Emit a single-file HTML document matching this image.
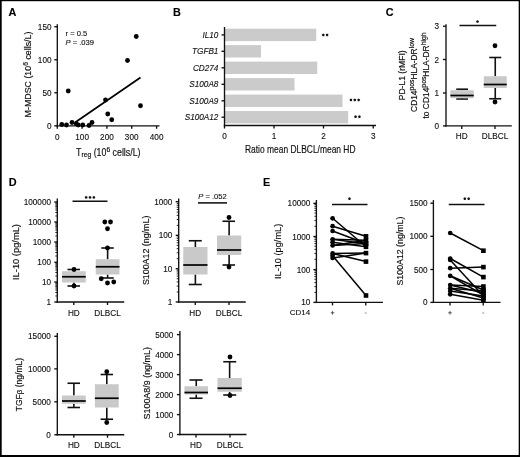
<!DOCTYPE html><html><head><meta charset="utf-8"><style>html,body{margin:0;padding:0;background:#fff}svg{display:block;will-change:transform;opacity:0.999}text{font-family:"Liberation Sans", sans-serif}</style></head><body>
<svg width="520" height="457" viewBox="0 0 520 457">
<rect x="0" y="0" width="520" height="457" fill="#fff"/>
<text transform="translate(8.60,16.30) scale(0.97,1)" font-size="11.2" text-anchor="start" font-weight="bold" font-style="normal" fill="#000" stroke="#000" stroke-width="0.12" >A</text>
<text transform="translate(173.00,16.40) scale(0.97,1)" font-size="11.2" text-anchor="start" font-weight="bold" font-style="normal" fill="#000" stroke="#000" stroke-width="0.12" >B</text>
<text transform="translate(385.80,16.20) scale(0.97,1)" font-size="11.2" text-anchor="start" font-weight="bold" font-style="normal" fill="#000" stroke="#000" stroke-width="0.12" >C</text>
<text transform="translate(8.80,185.70) scale(0.97,1)" font-size="11.2" text-anchor="start" font-weight="bold" font-style="normal" fill="#000" stroke="#000" stroke-width="0.12" >D</text>
<text transform="translate(263.00,185.50) scale(0.97,1)" font-size="11.2" text-anchor="start" font-weight="bold" font-style="normal" fill="#000" stroke="#000" stroke-width="0.12" >E</text>
<line x1="57.30" y1="24.20" x2="57.30" y2="126.47" stroke="#111" stroke-width="1.35" stroke-linecap="butt"/>
<line x1="54.30" y1="26.75" x2="57.30" y2="26.75" stroke="#111" stroke-width="1.35" stroke-linecap="butt"/>
<text transform="translate(51.50,29.75) scale(1.0,1)" font-size="8.2" text-anchor="end" font-weight="normal" font-style="normal" fill="#111" stroke="#111" stroke-width="0.12" >150</text>
<line x1="54.30" y1="59.75" x2="57.30" y2="59.75" stroke="#111" stroke-width="1.35" stroke-linecap="butt"/>
<text transform="translate(51.50,62.75) scale(1.0,1)" font-size="8.2" text-anchor="end" font-weight="normal" font-style="normal" fill="#111" stroke="#111" stroke-width="0.12" >100</text>
<line x1="54.30" y1="92.75" x2="57.30" y2="92.75" stroke="#111" stroke-width="1.35" stroke-linecap="butt"/>
<text transform="translate(51.50,95.75) scale(1.0,1)" font-size="8.2" text-anchor="end" font-weight="normal" font-style="normal" fill="#111" stroke="#111" stroke-width="0.12" >50</text>
<line x1="54.30" y1="125.80" x2="57.30" y2="125.80" stroke="#111" stroke-width="1.35" stroke-linecap="butt"/>
<text transform="translate(51.50,128.80) scale(1.0,1)" font-size="8.2" text-anchor="end" font-weight="normal" font-style="normal" fill="#111" stroke="#111" stroke-width="0.12" >0</text>
<line x1="56.62" y1="125.80" x2="159.50" y2="125.80" stroke="#111" stroke-width="1.35" stroke-linecap="butt"/>
<line x1="57.30" y1="125.80" x2="57.30" y2="128.80" stroke="#111" stroke-width="1.35" stroke-linecap="butt"/>
<text transform="translate(57.30,139.60) scale(1.0,1)" font-size="8.2" text-anchor="middle" font-weight="normal" font-style="normal" fill="#111" stroke="#111" stroke-width="0.12" >0</text>
<line x1="82.10" y1="125.80" x2="82.10" y2="128.80" stroke="#111" stroke-width="1.35" stroke-linecap="butt"/>
<text transform="translate(82.10,139.60) scale(1.0,1)" font-size="8.2" text-anchor="middle" font-weight="normal" font-style="normal" fill="#111" stroke="#111" stroke-width="0.12" >100</text>
<line x1="106.90" y1="125.80" x2="106.90" y2="128.80" stroke="#111" stroke-width="1.35" stroke-linecap="butt"/>
<text transform="translate(106.90,139.60) scale(1.0,1)" font-size="8.2" text-anchor="middle" font-weight="normal" font-style="normal" fill="#111" stroke="#111" stroke-width="0.12" >200</text>
<line x1="131.70" y1="125.80" x2="131.70" y2="128.80" stroke="#111" stroke-width="1.35" stroke-linecap="butt"/>
<text transform="translate(131.70,139.60) scale(1.0,1)" font-size="8.2" text-anchor="middle" font-weight="normal" font-style="normal" fill="#111" stroke="#111" stroke-width="0.12" >300</text>
<line x1="156.60" y1="125.80" x2="156.60" y2="128.80" stroke="#111" stroke-width="1.35" stroke-linecap="butt"/>
<text transform="translate(156.60,139.60) scale(1.0,1)" font-size="8.2" text-anchor="middle" font-weight="normal" font-style="normal" fill="#111" stroke="#111" stroke-width="0.12" >400</text>
<g transform="translate(31.00,74.50) rotate(-90)" fill="#111" stroke="#111" stroke-width="0.18">
<text transform="translate(-42.90,0) scale(1.0279,1)" font-size="8.6">M-MDSC&#160;(10</text>
<text transform="translate(8.66,-3.3)" font-size="6.8">6</text>
<text transform="translate(12.45,0) scale(1.0279,1)" font-size="8.6">&#160;cells/L)</text>
</g>
<g transform="translate(76.00,155.70)" fill="#111" stroke="#111" stroke-width="0.18">
<text transform="translate(0.00,0) scale(0.7592,1)" font-size="11.6">T</text>
<text transform="translate(5.38,1.6)" font-size="6.8">reg</text>
<text transform="translate(15.21,0) scale(0.7592,1)" font-size="11.6">&#160;(10</text>
<text transform="translate(30.38,-3.3)" font-size="6.8">6</text>
<text transform="translate(34.16,0) scale(0.7592,1)" font-size="11.6">&#160;cells/L)</text>
</g>
<text transform="translate(65.50,36.20) scale(1.0,1)" font-size="7.6" text-anchor="start" font-weight="normal" font-style="normal" fill="#111" stroke="#111" stroke-width="0.12" >r = 0.5</text>
<text transform="translate(65.50,45.30) scale(1.0,1)" font-size="7.6" text-anchor="start" font-weight="normal" font-style="normal" fill="#111" stroke="#111" stroke-width="0.12" ><tspan font-style="italic">P</tspan> = .039</text>
<circle cx="61.75" cy="124.50" r="2.4" fill="#000"/>
<circle cx="66.50" cy="125.00" r="2.4" fill="#000"/>
<circle cx="72.00" cy="122.50" r="2.4" fill="#000"/>
<circle cx="76.25" cy="123.75" r="2.4" fill="#000"/>
<circle cx="78.25" cy="125.00" r="2.4" fill="#000"/>
<circle cx="82.75" cy="125.00" r="2.4" fill="#000"/>
<circle cx="89.00" cy="125.50" r="2.4" fill="#000"/>
<circle cx="92.00" cy="122.50" r="2.4" fill="#000"/>
<circle cx="68.25" cy="91.00" r="2.4" fill="#000"/>
<circle cx="105.50" cy="100.00" r="2.4" fill="#000"/>
<circle cx="107.75" cy="114.00" r="2.4" fill="#000"/>
<circle cx="111.75" cy="119.75" r="2.4" fill="#000"/>
<circle cx="127.50" cy="60.50" r="2.4" fill="#000"/>
<circle cx="136.25" cy="36.50" r="2.4" fill="#000"/>
<circle cx="140.50" cy="105.75" r="2.4" fill="#000"/>
<line x1="75.00" y1="122.50" x2="140.50" y2="77.50" stroke="#000" stroke-width="1.7" stroke-linecap="butt"/>
<rect x="224.5" y="28.7" width="91.75" height="12.4" fill="#cbcbcb"/>
<line x1="221.50" y1="34.90" x2="224.50" y2="34.90" stroke="#111" stroke-width="1.35" stroke-linecap="butt"/>
<text transform="translate(218.40,37.80) scale(1.0,1)" font-size="8.2" text-anchor="end" font-weight="normal" font-style="italic" fill="#111" stroke="#111" stroke-width="0.12" >IL10</text>
<rect x="224.5" y="45.1" width="36.50" height="12.4" fill="#cbcbcb"/>
<line x1="221.50" y1="51.30" x2="224.50" y2="51.30" stroke="#111" stroke-width="1.35" stroke-linecap="butt"/>
<text transform="translate(218.40,54.20) scale(1.0,1)" font-size="8.2" text-anchor="end" font-weight="normal" font-style="italic" fill="#111" stroke="#111" stroke-width="0.12" >TGFB1</text>
<rect x="224.5" y="61.6" width="92.75" height="12.4" fill="#cbcbcb"/>
<line x1="221.50" y1="67.80" x2="224.50" y2="67.80" stroke="#111" stroke-width="1.35" stroke-linecap="butt"/>
<text transform="translate(218.40,70.70) scale(1.0,1)" font-size="8.2" text-anchor="end" font-weight="normal" font-style="italic" fill="#111" stroke="#111" stroke-width="0.12" >CD274</text>
<rect x="224.5" y="78.1" width="70.00" height="12.4" fill="#cbcbcb"/>
<line x1="221.50" y1="84.30" x2="224.50" y2="84.30" stroke="#111" stroke-width="1.35" stroke-linecap="butt"/>
<text transform="translate(218.40,87.20) scale(1.0,1)" font-size="8.2" text-anchor="end" font-weight="normal" font-style="italic" fill="#111" stroke="#111" stroke-width="0.12" >S100A8</text>
<rect x="224.5" y="94.6" width="118.00" height="12.4" fill="#cbcbcb"/>
<line x1="221.50" y1="100.80" x2="224.50" y2="100.80" stroke="#111" stroke-width="1.35" stroke-linecap="butt"/>
<text transform="translate(218.40,103.70) scale(1.0,1)" font-size="8.2" text-anchor="end" font-weight="normal" font-style="italic" fill="#111" stroke="#111" stroke-width="0.12" >S100A9</text>
<rect x="224.5" y="111.0" width="123.70" height="12.4" fill="#cbcbcb"/>
<line x1="221.50" y1="117.20" x2="224.50" y2="117.20" stroke="#111" stroke-width="1.35" stroke-linecap="butt"/>
<text transform="translate(218.40,120.10) scale(1.0,1)" font-size="8.2" text-anchor="end" font-weight="normal" font-style="italic" fill="#111" stroke="#111" stroke-width="0.12" >S100A12</text>
<line x1="224.50" y1="27.00" x2="224.50" y2="126.17" stroke="#111" stroke-width="1.35" stroke-linecap="butt"/>
<line x1="223.82" y1="125.50" x2="376.00" y2="125.50" stroke="#111" stroke-width="1.35" stroke-linecap="butt"/>
<line x1="224.50" y1="125.50" x2="224.50" y2="128.50" stroke="#111" stroke-width="1.35" stroke-linecap="butt"/>
<text transform="translate(224.50,139.30) scale(1.0,1)" font-size="8.2" text-anchor="middle" font-weight="normal" font-style="normal" fill="#111" stroke="#111" stroke-width="0.12" >0</text>
<line x1="274.00" y1="125.50" x2="274.00" y2="128.50" stroke="#111" stroke-width="1.35" stroke-linecap="butt"/>
<text transform="translate(274.00,139.30) scale(1.0,1)" font-size="8.2" text-anchor="middle" font-weight="normal" font-style="normal" fill="#111" stroke="#111" stroke-width="0.12" >1</text>
<line x1="323.50" y1="125.50" x2="323.50" y2="128.50" stroke="#111" stroke-width="1.35" stroke-linecap="butt"/>
<text transform="translate(323.50,139.30) scale(1.0,1)" font-size="8.2" text-anchor="middle" font-weight="normal" font-style="normal" fill="#111" stroke="#111" stroke-width="0.12" >2</text>
<line x1="373.25" y1="125.50" x2="373.25" y2="128.50" stroke="#111" stroke-width="1.35" stroke-linecap="butt"/>
<text transform="translate(373.25,139.30) scale(1.0,1)" font-size="8.2" text-anchor="middle" font-weight="normal" font-style="normal" fill="#111" stroke="#111" stroke-width="0.12" >3</text>
<g transform="translate(245.00,152.90)" fill="#111" stroke="#111" stroke-width="0.18">
<text transform="translate(0.00,0) scale(0.7279,1)" font-size="11.6">Ratio&#160;mean&#160;DLBCL/mean&#160;HD</text>
</g>
<circle cx="323.27" cy="35.00" r="1.2" fill="#111"/>
<path d="M321.77 34.50L324.77 34.50M323.27 33.40L323.27 35.00M322.27 36.40L323.27 35.00L324.27 36.40" stroke="#111" stroke-width="0.5" fill="none" opacity="0.6"/>
<circle cx="327.12" cy="35.00" r="1.2" fill="#111"/>
<path d="M325.62 34.50L328.62 34.50M327.12 33.40L327.12 35.00M326.12 36.40L327.12 35.00L328.12 36.40" stroke="#111" stroke-width="0.5" fill="none" opacity="0.6"/>
<circle cx="350.95" cy="100.00" r="1.2" fill="#111"/>
<path d="M349.45 99.50L352.45 99.50M350.95 98.40L350.95 100.00M349.95 101.40L350.95 100.00L351.95 101.40" stroke="#111" stroke-width="0.5" fill="none" opacity="0.6"/>
<circle cx="354.80" cy="100.00" r="1.2" fill="#111"/>
<path d="M353.30 99.50L356.30 99.50M354.80 98.40L354.80 100.00M353.80 101.40L354.80 100.00L355.80 101.40" stroke="#111" stroke-width="0.5" fill="none" opacity="0.6"/>
<circle cx="358.65" cy="100.00" r="1.2" fill="#111"/>
<path d="M357.15 99.50L360.15 99.50M358.65 98.40L358.65 100.00M357.65 101.40L358.65 100.00L359.65 101.40" stroke="#111" stroke-width="0.5" fill="none" opacity="0.6"/>
<circle cx="355.57" cy="116.80" r="1.2" fill="#111"/>
<path d="M354.07 116.30L357.07 116.30M355.57 115.20L355.57 116.80M354.57 118.20L355.57 116.80L356.57 118.20" stroke="#111" stroke-width="0.5" fill="none" opacity="0.6"/>
<circle cx="359.43" cy="116.80" r="1.2" fill="#111"/>
<path d="M357.93 116.30L360.93 116.30M359.43 115.20L359.43 116.80M358.43 118.20L359.43 116.80L360.43 118.20" stroke="#111" stroke-width="0.5" fill="none" opacity="0.6"/>
<line x1="446.00" y1="24.20" x2="446.00" y2="126.58" stroke="#111" stroke-width="1.35" stroke-linecap="butt"/>
<line x1="443.00" y1="26.25" x2="446.00" y2="26.25" stroke="#111" stroke-width="1.35" stroke-linecap="butt"/>
<text transform="translate(439.00,29.25) scale(1.0,1)" font-size="8.2" text-anchor="end" font-weight="normal" font-style="normal" fill="#111" stroke="#111" stroke-width="0.12" >3</text>
<line x1="443.00" y1="59.50" x2="446.00" y2="59.50" stroke="#111" stroke-width="1.35" stroke-linecap="butt"/>
<text transform="translate(439.00,62.50) scale(1.0,1)" font-size="8.2" text-anchor="end" font-weight="normal" font-style="normal" fill="#111" stroke="#111" stroke-width="0.12" >2</text>
<line x1="443.00" y1="93.00" x2="446.00" y2="93.00" stroke="#111" stroke-width="1.35" stroke-linecap="butt"/>
<text transform="translate(439.00,96.00) scale(1.0,1)" font-size="8.2" text-anchor="end" font-weight="normal" font-style="normal" fill="#111" stroke="#111" stroke-width="0.12" >1</text>
<line x1="443.00" y1="125.90" x2="446.00" y2="125.90" stroke="#111" stroke-width="1.35" stroke-linecap="butt"/>
<text transform="translate(439.00,128.90) scale(1.0,1)" font-size="8.2" text-anchor="end" font-weight="normal" font-style="normal" fill="#111" stroke="#111" stroke-width="0.12" >0</text>
<line x1="445.32" y1="125.90" x2="511.75" y2="125.90" stroke="#111" stroke-width="1.35" stroke-linecap="butt"/>
<line x1="461.75" y1="125.90" x2="461.75" y2="128.90" stroke="#111" stroke-width="1.35" stroke-linecap="butt"/>
<text transform="translate(461.75,139.30) scale(1.0,1)" font-size="8.2" text-anchor="middle" font-weight="normal" font-style="normal" fill="#111" stroke="#111" stroke-width="0.12" >HD</text>
<line x1="495.00" y1="125.90" x2="495.00" y2="128.90" stroke="#111" stroke-width="1.35" stroke-linecap="butt"/>
<text transform="translate(495.00,139.30) scale(1.0,1)" font-size="8.2" text-anchor="middle" font-weight="normal" font-style="normal" fill="#111" stroke="#111" stroke-width="0.12" >DLBCL</text>
<line x1="459.50" y1="25.50" x2="496.25" y2="25.50" stroke="#111" stroke-width="1.55" stroke-linecap="butt"/>
<circle cx="477.50" cy="21.60" r="1.2" fill="#111"/>
<path d="M476.00 21.10L479.00 21.10M477.50 20.00L477.50 21.60M476.50 23.00L477.50 21.60L478.50 23.00" stroke="#111" stroke-width="0.5" fill="none" opacity="0.6"/>
<line x1="462.07" y1="89.20" x2="462.07" y2="90.20" stroke="#111" stroke-width="1.6" stroke-linecap="butt"/>
<line x1="462.07" y1="98.20" x2="462.07" y2="99.00" stroke="#111" stroke-width="1.6" stroke-linecap="butt"/>
<line x1="456.25" y1="89.20" x2="468.00" y2="89.20" stroke="#111" stroke-width="1.6" stroke-linecap="butt"/>
<line x1="456.25" y1="99.00" x2="468.00" y2="99.00" stroke="#111" stroke-width="1.6" stroke-linecap="butt"/>
<rect x="450.40" y="90.20" width="23.35" height="8.00" fill="#c9c9c9"/>
<line x1="450.40" y1="95.50" x2="473.75" y2="95.50" stroke="#000" stroke-width="1.7" stroke-linecap="butt"/>
<line x1="495.25" y1="57.50" x2="495.25" y2="76.25" stroke="#111" stroke-width="1.6" stroke-linecap="butt"/>
<line x1="495.25" y1="88.00" x2="495.25" y2="98.75" stroke="#111" stroke-width="1.6" stroke-linecap="butt"/>
<line x1="489.25" y1="57.50" x2="501.25" y2="57.50" stroke="#111" stroke-width="1.6" stroke-linecap="butt"/>
<line x1="489.25" y1="98.75" x2="501.25" y2="98.75" stroke="#111" stroke-width="1.6" stroke-linecap="butt"/>
<rect x="483.75" y="76.25" width="23.00" height="11.75" fill="#c9c9c9"/>
<line x1="483.75" y1="84.50" x2="506.75" y2="84.50" stroke="#000" stroke-width="1.7" stroke-linecap="butt"/>
<circle cx="495.00" cy="45.75" r="2.4" fill="#000"/>
<circle cx="495.00" cy="102.00" r="2.4" fill="#000"/>
<g transform="translate(405.40,75.30) rotate(-90)" fill="#111" stroke="#111" stroke-width="0.18">
<text transform="translate(-25.00,0) scale(0.9968,1)" font-size="8.6">PD-L1&#160;(rMFI)</text>
</g>
<g transform="translate(416.80,75.00) rotate(-90)" fill="#111" stroke="#111" stroke-width="0.18">
<text transform="translate(-36.88,0) scale(0.9738,1)" font-size="8.6">CD14</text>
<text transform="translate(-15.47,-3.3)" font-size="6.8">pos</text>
<text transform="translate(-4.50,0) scale(0.9738,1)" font-size="8.6">HLA-DR</text>
<text transform="translate(26.67,-3.3)" font-size="6.8">low</text>
</g>
<g transform="translate(429.00,75.50) rotate(-90)" fill="#111" stroke="#111" stroke-width="0.18">
<text transform="translate(-43.00,0) scale(0.9783,1)" font-size="8.6">to&#160;CD14</text>
<text transform="translate(-12.14,-3.3)" font-size="6.8">pos</text>
<text transform="translate(-1.17,0) scale(0.9783,1)" font-size="8.6">HLA-DR</text>
<text transform="translate(30.14,-3.3)" font-size="6.8">high</text>
</g>
<line x1="57.30" y1="198.40" x2="57.30" y2="302.68" stroke="#111" stroke-width="1.35" stroke-linecap="butt"/>
<line x1="54.30" y1="202.00" x2="57.30" y2="202.00" stroke="#111" stroke-width="1.35" stroke-linecap="butt"/>
<text transform="translate(51.00,205.00) scale(1.0,1)" font-size="8.2" text-anchor="end" font-weight="normal" font-style="normal" fill="#111" stroke="#111" stroke-width="0.12" >100000</text>
<line x1="54.30" y1="222.00" x2="57.30" y2="222.00" stroke="#111" stroke-width="1.35" stroke-linecap="butt"/>
<text transform="translate(51.00,225.00) scale(1.0,1)" font-size="8.2" text-anchor="end" font-weight="normal" font-style="normal" fill="#111" stroke="#111" stroke-width="0.12" >10000</text>
<line x1="54.30" y1="242.00" x2="57.30" y2="242.00" stroke="#111" stroke-width="1.35" stroke-linecap="butt"/>
<text transform="translate(51.00,245.00) scale(1.0,1)" font-size="8.2" text-anchor="end" font-weight="normal" font-style="normal" fill="#111" stroke="#111" stroke-width="0.12" >1000</text>
<line x1="54.30" y1="262.25" x2="57.30" y2="262.25" stroke="#111" stroke-width="1.35" stroke-linecap="butt"/>
<text transform="translate(51.00,265.25) scale(1.0,1)" font-size="8.2" text-anchor="end" font-weight="normal" font-style="normal" fill="#111" stroke="#111" stroke-width="0.12" >100</text>
<line x1="54.30" y1="282.00" x2="57.30" y2="282.00" stroke="#111" stroke-width="1.35" stroke-linecap="butt"/>
<text transform="translate(51.00,285.00) scale(1.0,1)" font-size="8.2" text-anchor="end" font-weight="normal" font-style="normal" fill="#111" stroke="#111" stroke-width="0.12" >10</text>
<line x1="54.30" y1="302.00" x2="57.30" y2="302.00" stroke="#111" stroke-width="1.35" stroke-linecap="butt"/>
<text transform="translate(51.00,305.00) scale(1.0,1)" font-size="8.2" text-anchor="end" font-weight="normal" font-style="normal" fill="#111" stroke="#111" stroke-width="0.12" >1</text>
<line x1="55.30" y1="295.98" x2="57.30" y2="295.98" stroke="#111" stroke-width="0.9" stroke-linecap="butt"/>
<line x1="55.30" y1="292.46" x2="57.30" y2="292.46" stroke="#111" stroke-width="0.9" stroke-linecap="butt"/>
<line x1="55.30" y1="289.96" x2="57.30" y2="289.96" stroke="#111" stroke-width="0.9" stroke-linecap="butt"/>
<line x1="55.30" y1="288.02" x2="57.30" y2="288.02" stroke="#111" stroke-width="0.9" stroke-linecap="butt"/>
<line x1="55.30" y1="286.44" x2="57.30" y2="286.44" stroke="#111" stroke-width="0.9" stroke-linecap="butt"/>
<line x1="55.30" y1="285.10" x2="57.30" y2="285.10" stroke="#111" stroke-width="0.9" stroke-linecap="butt"/>
<line x1="55.30" y1="283.94" x2="57.30" y2="283.94" stroke="#111" stroke-width="0.9" stroke-linecap="butt"/>
<line x1="55.30" y1="282.92" x2="57.30" y2="282.92" stroke="#111" stroke-width="0.9" stroke-linecap="butt"/>
<line x1="55.30" y1="275.98" x2="57.30" y2="275.98" stroke="#111" stroke-width="0.9" stroke-linecap="butt"/>
<line x1="55.30" y1="272.46" x2="57.30" y2="272.46" stroke="#111" stroke-width="0.9" stroke-linecap="butt"/>
<line x1="55.30" y1="269.96" x2="57.30" y2="269.96" stroke="#111" stroke-width="0.9" stroke-linecap="butt"/>
<line x1="55.30" y1="268.02" x2="57.30" y2="268.02" stroke="#111" stroke-width="0.9" stroke-linecap="butt"/>
<line x1="55.30" y1="266.44" x2="57.30" y2="266.44" stroke="#111" stroke-width="0.9" stroke-linecap="butt"/>
<line x1="55.30" y1="265.10" x2="57.30" y2="265.10" stroke="#111" stroke-width="0.9" stroke-linecap="butt"/>
<line x1="55.30" y1="263.94" x2="57.30" y2="263.94" stroke="#111" stroke-width="0.9" stroke-linecap="butt"/>
<line x1="55.30" y1="262.92" x2="57.30" y2="262.92" stroke="#111" stroke-width="0.9" stroke-linecap="butt"/>
<line x1="55.30" y1="255.98" x2="57.30" y2="255.98" stroke="#111" stroke-width="0.9" stroke-linecap="butt"/>
<line x1="55.30" y1="252.46" x2="57.30" y2="252.46" stroke="#111" stroke-width="0.9" stroke-linecap="butt"/>
<line x1="55.30" y1="249.96" x2="57.30" y2="249.96" stroke="#111" stroke-width="0.9" stroke-linecap="butt"/>
<line x1="55.30" y1="248.02" x2="57.30" y2="248.02" stroke="#111" stroke-width="0.9" stroke-linecap="butt"/>
<line x1="55.30" y1="246.44" x2="57.30" y2="246.44" stroke="#111" stroke-width="0.9" stroke-linecap="butt"/>
<line x1="55.30" y1="245.10" x2="57.30" y2="245.10" stroke="#111" stroke-width="0.9" stroke-linecap="butt"/>
<line x1="55.30" y1="243.94" x2="57.30" y2="243.94" stroke="#111" stroke-width="0.9" stroke-linecap="butt"/>
<line x1="55.30" y1="242.92" x2="57.30" y2="242.92" stroke="#111" stroke-width="0.9" stroke-linecap="butt"/>
<line x1="55.30" y1="235.98" x2="57.30" y2="235.98" stroke="#111" stroke-width="0.9" stroke-linecap="butt"/>
<line x1="55.30" y1="232.46" x2="57.30" y2="232.46" stroke="#111" stroke-width="0.9" stroke-linecap="butt"/>
<line x1="55.30" y1="229.96" x2="57.30" y2="229.96" stroke="#111" stroke-width="0.9" stroke-linecap="butt"/>
<line x1="55.30" y1="228.02" x2="57.30" y2="228.02" stroke="#111" stroke-width="0.9" stroke-linecap="butt"/>
<line x1="55.30" y1="226.44" x2="57.30" y2="226.44" stroke="#111" stroke-width="0.9" stroke-linecap="butt"/>
<line x1="55.30" y1="225.10" x2="57.30" y2="225.10" stroke="#111" stroke-width="0.9" stroke-linecap="butt"/>
<line x1="55.30" y1="223.94" x2="57.30" y2="223.94" stroke="#111" stroke-width="0.9" stroke-linecap="butt"/>
<line x1="55.30" y1="222.92" x2="57.30" y2="222.92" stroke="#111" stroke-width="0.9" stroke-linecap="butt"/>
<line x1="55.30" y1="215.98" x2="57.30" y2="215.98" stroke="#111" stroke-width="0.9" stroke-linecap="butt"/>
<line x1="55.30" y1="212.46" x2="57.30" y2="212.46" stroke="#111" stroke-width="0.9" stroke-linecap="butt"/>
<line x1="55.30" y1="209.96" x2="57.30" y2="209.96" stroke="#111" stroke-width="0.9" stroke-linecap="butt"/>
<line x1="55.30" y1="208.02" x2="57.30" y2="208.02" stroke="#111" stroke-width="0.9" stroke-linecap="butt"/>
<line x1="55.30" y1="206.44" x2="57.30" y2="206.44" stroke="#111" stroke-width="0.9" stroke-linecap="butt"/>
<line x1="55.30" y1="205.10" x2="57.30" y2="205.10" stroke="#111" stroke-width="0.9" stroke-linecap="butt"/>
<line x1="55.30" y1="203.94" x2="57.30" y2="203.94" stroke="#111" stroke-width="0.9" stroke-linecap="butt"/>
<line x1="55.30" y1="202.92" x2="57.30" y2="202.92" stroke="#111" stroke-width="0.9" stroke-linecap="butt"/>
<line x1="56.62" y1="302.00" x2="124.25" y2="302.00" stroke="#111" stroke-width="1.35" stroke-linecap="butt"/>
<line x1="73.80" y1="302.00" x2="73.80" y2="305.00" stroke="#111" stroke-width="1.35" stroke-linecap="butt"/>
<text transform="translate(73.80,315.60) scale(1.0,1)" font-size="8.2" text-anchor="middle" font-weight="normal" font-style="normal" fill="#111" stroke="#111" stroke-width="0.12" >HD</text>
<line x1="107.50" y1="302.00" x2="107.50" y2="305.00" stroke="#111" stroke-width="1.35" stroke-linecap="butt"/>
<text transform="translate(107.50,315.60) scale(1.0,1)" font-size="8.2" text-anchor="middle" font-weight="normal" font-style="normal" fill="#111" stroke="#111" stroke-width="0.12" >DLBCL</text>
<line x1="72.50" y1="201.25" x2="107.50" y2="201.25" stroke="#111" stroke-width="1.55" stroke-linecap="butt"/>
<circle cx="86.15" cy="197.40" r="1.2" fill="#111"/>
<path d="M84.65 196.90L87.65 196.90M86.15 195.80L86.15 197.40M85.15 198.80L86.15 197.40L87.15 198.80" stroke="#111" stroke-width="0.5" fill="none" opacity="0.6"/>
<circle cx="90.00" cy="197.40" r="1.2" fill="#111"/>
<path d="M88.50 196.90L91.50 196.90M90.00 195.80L90.00 197.40M89.00 198.80L90.00 197.40L91.00 198.80" stroke="#111" stroke-width="0.5" fill="none" opacity="0.6"/>
<circle cx="93.85" cy="197.40" r="1.2" fill="#111"/>
<path d="M92.35 196.90L95.35 196.90M93.85 195.80L93.85 197.40M92.85 198.80L93.85 197.40L94.85 198.80" stroke="#111" stroke-width="0.5" fill="none" opacity="0.6"/>
<g transform="translate(18.60,252.00) rotate(-90)" fill="#111" stroke="#111" stroke-width="0.18">
<text transform="translate(-28.00,0) scale(1.0849,1)" font-size="8.6">IL-10&#160;(pg/mL)</text>
</g>
<line x1="73.88" y1="269.50" x2="73.88" y2="271.25" stroke="#111" stroke-width="1.6" stroke-linecap="butt"/>
<line x1="73.88" y1="282.50" x2="73.88" y2="286.00" stroke="#111" stroke-width="1.6" stroke-linecap="butt"/>
<line x1="67.50" y1="269.50" x2="80.00" y2="269.50" stroke="#111" stroke-width="1.6" stroke-linecap="butt"/>
<line x1="67.50" y1="286.00" x2="80.00" y2="286.00" stroke="#111" stroke-width="1.6" stroke-linecap="butt"/>
<rect x="62.00" y="271.25" width="23.75" height="11.25" fill="#c9c9c9"/>
<line x1="62.00" y1="276.75" x2="85.75" y2="276.75" stroke="#000" stroke-width="1.7" stroke-linecap="butt"/>
<circle cx="74.00" cy="269.50" r="2.4" fill="#000"/>
<circle cx="74.00" cy="286.00" r="2.4" fill="#000"/>
<line x1="107.62" y1="248.00" x2="107.62" y2="259.25" stroke="#111" stroke-width="1.6" stroke-linecap="butt"/>
<line x1="107.62" y1="274.50" x2="107.62" y2="278.00" stroke="#111" stroke-width="1.6" stroke-linecap="butt"/>
<line x1="101.25" y1="248.00" x2="113.75" y2="248.00" stroke="#111" stroke-width="1.6" stroke-linecap="butt"/>
<line x1="101.25" y1="278.00" x2="113.75" y2="278.00" stroke="#111" stroke-width="1.6" stroke-linecap="butt"/>
<rect x="95.75" y="259.25" width="23.75" height="15.25" fill="#c9c9c9"/>
<line x1="95.75" y1="266.75" x2="119.50" y2="266.75" stroke="#000" stroke-width="1.7" stroke-linecap="butt"/>
<circle cx="107.50" cy="248.00" r="2.4" fill="#000"/>
<circle cx="104.80" cy="222.00" r="2.4" fill="#000"/>
<circle cx="110.50" cy="222.00" r="2.4" fill="#000"/>
<circle cx="107.50" cy="228.75" r="2.4" fill="#000"/>
<circle cx="101.25" cy="278.75" r="2.4" fill="#000"/>
<circle cx="107.50" cy="283.00" r="2.4" fill="#000"/>
<circle cx="113.75" cy="282.00" r="2.4" fill="#000"/>
<line x1="178.70" y1="198.40" x2="178.70" y2="302.68" stroke="#111" stroke-width="1.35" stroke-linecap="butt"/>
<line x1="175.70" y1="201.70" x2="178.70" y2="201.70" stroke="#111" stroke-width="1.35" stroke-linecap="butt"/>
<text transform="translate(172.40,204.70) scale(1.0,1)" font-size="8.2" text-anchor="end" font-weight="normal" font-style="normal" fill="#111" stroke="#111" stroke-width="0.12" >1000</text>
<line x1="175.70" y1="235.30" x2="178.70" y2="235.30" stroke="#111" stroke-width="1.35" stroke-linecap="butt"/>
<text transform="translate(172.40,238.30) scale(1.0,1)" font-size="8.2" text-anchor="end" font-weight="normal" font-style="normal" fill="#111" stroke="#111" stroke-width="0.12" >100</text>
<line x1="175.70" y1="268.75" x2="178.70" y2="268.75" stroke="#111" stroke-width="1.35" stroke-linecap="butt"/>
<text transform="translate(172.40,271.75) scale(1.0,1)" font-size="8.2" text-anchor="end" font-weight="normal" font-style="normal" fill="#111" stroke="#111" stroke-width="0.12" >10</text>
<line x1="175.70" y1="302.00" x2="178.70" y2="302.00" stroke="#111" stroke-width="1.35" stroke-linecap="butt"/>
<text transform="translate(172.40,305.00) scale(1.0,1)" font-size="8.2" text-anchor="end" font-weight="normal" font-style="normal" fill="#111" stroke="#111" stroke-width="0.12" >1</text>
<line x1="176.70" y1="291.98" x2="178.70" y2="291.98" stroke="#111" stroke-width="0.9" stroke-linecap="butt"/>
<line x1="176.70" y1="286.11" x2="178.70" y2="286.11" stroke="#111" stroke-width="0.9" stroke-linecap="butt"/>
<line x1="176.70" y1="281.95" x2="178.70" y2="281.95" stroke="#111" stroke-width="0.9" stroke-linecap="butt"/>
<line x1="176.70" y1="278.72" x2="178.70" y2="278.72" stroke="#111" stroke-width="0.9" stroke-linecap="butt"/>
<line x1="176.70" y1="276.09" x2="178.70" y2="276.09" stroke="#111" stroke-width="0.9" stroke-linecap="butt"/>
<line x1="176.70" y1="273.86" x2="178.70" y2="273.86" stroke="#111" stroke-width="0.9" stroke-linecap="butt"/>
<line x1="176.70" y1="271.93" x2="178.70" y2="271.93" stroke="#111" stroke-width="0.9" stroke-linecap="butt"/>
<line x1="176.70" y1="270.22" x2="178.70" y2="270.22" stroke="#111" stroke-width="0.9" stroke-linecap="butt"/>
<line x1="176.70" y1="258.68" x2="178.70" y2="258.68" stroke="#111" stroke-width="0.9" stroke-linecap="butt"/>
<line x1="176.70" y1="252.81" x2="178.70" y2="252.81" stroke="#111" stroke-width="0.9" stroke-linecap="butt"/>
<line x1="176.70" y1="248.65" x2="178.70" y2="248.65" stroke="#111" stroke-width="0.9" stroke-linecap="butt"/>
<line x1="176.70" y1="245.42" x2="178.70" y2="245.42" stroke="#111" stroke-width="0.9" stroke-linecap="butt"/>
<line x1="176.70" y1="242.79" x2="178.70" y2="242.79" stroke="#111" stroke-width="0.9" stroke-linecap="butt"/>
<line x1="176.70" y1="240.56" x2="178.70" y2="240.56" stroke="#111" stroke-width="0.9" stroke-linecap="butt"/>
<line x1="176.70" y1="238.63" x2="178.70" y2="238.63" stroke="#111" stroke-width="0.9" stroke-linecap="butt"/>
<line x1="176.70" y1="236.92" x2="178.70" y2="236.92" stroke="#111" stroke-width="0.9" stroke-linecap="butt"/>
<line x1="176.70" y1="225.38" x2="178.70" y2="225.38" stroke="#111" stroke-width="0.9" stroke-linecap="butt"/>
<line x1="176.70" y1="219.51" x2="178.70" y2="219.51" stroke="#111" stroke-width="0.9" stroke-linecap="butt"/>
<line x1="176.70" y1="215.35" x2="178.70" y2="215.35" stroke="#111" stroke-width="0.9" stroke-linecap="butt"/>
<line x1="176.70" y1="212.12" x2="178.70" y2="212.12" stroke="#111" stroke-width="0.9" stroke-linecap="butt"/>
<line x1="176.70" y1="209.49" x2="178.70" y2="209.49" stroke="#111" stroke-width="0.9" stroke-linecap="butt"/>
<line x1="176.70" y1="207.26" x2="178.70" y2="207.26" stroke="#111" stroke-width="0.9" stroke-linecap="butt"/>
<line x1="176.70" y1="205.33" x2="178.70" y2="205.33" stroke="#111" stroke-width="0.9" stroke-linecap="butt"/>
<line x1="176.70" y1="203.62" x2="178.70" y2="203.62" stroke="#111" stroke-width="0.9" stroke-linecap="butt"/>
<line x1="178.02" y1="302.00" x2="245.75" y2="302.00" stroke="#111" stroke-width="1.35" stroke-linecap="butt"/>
<line x1="195.25" y1="302.00" x2="195.25" y2="305.00" stroke="#111" stroke-width="1.35" stroke-linecap="butt"/>
<text transform="translate(195.25,315.60) scale(1.0,1)" font-size="8.2" text-anchor="middle" font-weight="normal" font-style="normal" fill="#111" stroke="#111" stroke-width="0.12" >HD</text>
<line x1="229.00" y1="302.00" x2="229.00" y2="305.00" stroke="#111" stroke-width="1.35" stroke-linecap="butt"/>
<text transform="translate(229.00,315.60) scale(1.0,1)" font-size="8.2" text-anchor="middle" font-weight="normal" font-style="normal" fill="#111" stroke="#111" stroke-width="0.12" >DLBCL</text>
<line x1="198.00" y1="202.90" x2="227.00" y2="202.90" stroke="#111" stroke-width="1.55" stroke-linecap="butt"/>
<text transform="translate(212.50,198.70) scale(0.95,1)" font-size="8.0" text-anchor="middle" font-weight="normal" font-style="normal" fill="#111" stroke="#111" stroke-width="0.12" ><tspan font-style="italic">P</tspan> = .052</text>
<g transform="translate(148.70,250.30) rotate(-90)" fill="#111" stroke="#111" stroke-width="0.18">
<text transform="translate(-34.75,0) scale(1.0311,1)" font-size="8.6">S100A12&#160;(ng/mL)</text>
</g>
<line x1="195.38" y1="240.75" x2="195.38" y2="247.00" stroke="#111" stroke-width="1.6" stroke-linecap="butt"/>
<line x1="195.38" y1="274.50" x2="195.38" y2="284.50" stroke="#111" stroke-width="1.6" stroke-linecap="butt"/>
<line x1="188.75" y1="240.75" x2="201.75" y2="240.75" stroke="#111" stroke-width="1.6" stroke-linecap="butt"/>
<line x1="188.75" y1="284.50" x2="201.75" y2="284.50" stroke="#111" stroke-width="1.6" stroke-linecap="butt"/>
<rect x="183.25" y="247.00" width="24.25" height="27.50" fill="#c9c9c9"/>
<line x1="183.25" y1="265.00" x2="207.50" y2="265.00" stroke="#000" stroke-width="1.7" stroke-linecap="butt"/>
<line x1="229.12" y1="221.25" x2="229.12" y2="235.50" stroke="#111" stroke-width="1.6" stroke-linecap="butt"/>
<line x1="229.12" y1="255.00" x2="229.12" y2="265.00" stroke="#111" stroke-width="1.6" stroke-linecap="butt"/>
<line x1="222.50" y1="221.25" x2="235.00" y2="221.25" stroke="#111" stroke-width="1.6" stroke-linecap="butt"/>
<line x1="222.50" y1="265.00" x2="235.00" y2="265.00" stroke="#111" stroke-width="1.6" stroke-linecap="butt"/>
<rect x="217.00" y="235.50" width="24.25" height="19.50" fill="#c9c9c9"/>
<line x1="217.00" y1="250.00" x2="241.25" y2="250.00" stroke="#000" stroke-width="1.7" stroke-linecap="butt"/>
<circle cx="229.00" cy="217.50" r="2.4" fill="#000"/>
<circle cx="229.00" cy="267.00" r="2.4" fill="#000"/>
<line x1="57.30" y1="332.90" x2="57.30" y2="435.43" stroke="#111" stroke-width="1.35" stroke-linecap="butt"/>
<line x1="54.30" y1="336.30" x2="57.30" y2="336.30" stroke="#111" stroke-width="1.35" stroke-linecap="butt"/>
<text transform="translate(50.80,339.30) scale(1.0,1)" font-size="8.2" text-anchor="end" font-weight="normal" font-style="normal" fill="#111" stroke="#111" stroke-width="0.12" >15000</text>
<line x1="54.30" y1="368.90" x2="57.30" y2="368.90" stroke="#111" stroke-width="1.35" stroke-linecap="butt"/>
<text transform="translate(50.80,371.90) scale(1.0,1)" font-size="8.2" text-anchor="end" font-weight="normal" font-style="normal" fill="#111" stroke="#111" stroke-width="0.12" >10000</text>
<line x1="54.30" y1="401.80" x2="57.30" y2="401.80" stroke="#111" stroke-width="1.35" stroke-linecap="butt"/>
<text transform="translate(50.80,404.80) scale(1.0,1)" font-size="8.2" text-anchor="end" font-weight="normal" font-style="normal" fill="#111" stroke="#111" stroke-width="0.12" >5000</text>
<line x1="54.30" y1="434.75" x2="57.30" y2="434.75" stroke="#111" stroke-width="1.35" stroke-linecap="butt"/>
<text transform="translate(50.80,437.75) scale(1.0,1)" font-size="8.2" text-anchor="end" font-weight="normal" font-style="normal" fill="#111" stroke="#111" stroke-width="0.12" >0</text>
<line x1="56.62" y1="434.75" x2="124.25" y2="434.75" stroke="#111" stroke-width="1.35" stroke-linecap="butt"/>
<line x1="73.80" y1="434.75" x2="73.80" y2="437.75" stroke="#111" stroke-width="1.35" stroke-linecap="butt"/>
<text transform="translate(73.80,448.10) scale(1.0,1)" font-size="8.2" text-anchor="middle" font-weight="normal" font-style="normal" fill="#111" stroke="#111" stroke-width="0.12" >HD</text>
<line x1="107.50" y1="434.75" x2="107.50" y2="437.75" stroke="#111" stroke-width="1.35" stroke-linecap="butt"/>
<text transform="translate(107.50,448.10) scale(1.0,1)" font-size="8.2" text-anchor="middle" font-weight="normal" font-style="normal" fill="#111" stroke="#111" stroke-width="0.12" >DLBCL</text>
<g transform="translate(21.70,384.60) rotate(-90)" fill="#111" stroke="#111" stroke-width="0.18">
<text transform="translate(-26.75,0) scale(0.9960,1)" font-size="8.6">TGF</text>
<text transform="translate(-9.62,0.3)" font-size="7.8">β</text>
<text transform="translate(-5.14,0) scale(0.9960,1)" font-size="8.6">&#160;(ng/mL)</text>
</g>
<line x1="73.88" y1="383.25" x2="73.88" y2="395.50" stroke="#111" stroke-width="1.6" stroke-linecap="butt"/>
<line x1="73.88" y1="403.75" x2="73.88" y2="407.50" stroke="#111" stroke-width="1.6" stroke-linecap="butt"/>
<line x1="67.50" y1="383.25" x2="80.00" y2="383.25" stroke="#111" stroke-width="1.6" stroke-linecap="butt"/>
<line x1="67.50" y1="407.50" x2="80.00" y2="407.50" stroke="#111" stroke-width="1.6" stroke-linecap="butt"/>
<rect x="62.00" y="395.50" width="23.75" height="8.25" fill="#c9c9c9"/>
<line x1="62.00" y1="401.00" x2="85.75" y2="401.00" stroke="#000" stroke-width="1.7" stroke-linecap="butt"/>
<line x1="106.80" y1="374.50" x2="106.80" y2="384.25" stroke="#111" stroke-width="1.6" stroke-linecap="butt"/>
<line x1="106.80" y1="407.50" x2="106.80" y2="419.25" stroke="#111" stroke-width="1.6" stroke-linecap="butt"/>
<line x1="100.60" y1="374.50" x2="113.00" y2="374.50" stroke="#111" stroke-width="1.6" stroke-linecap="butt"/>
<line x1="100.60" y1="419.25" x2="113.00" y2="419.25" stroke="#111" stroke-width="1.6" stroke-linecap="butt"/>
<rect x="94.90" y="384.25" width="23.80" height="23.25" fill="#c9c9c9"/>
<line x1="94.90" y1="398.25" x2="118.70" y2="398.25" stroke="#000" stroke-width="1.7" stroke-linecap="butt"/>
<circle cx="106.75" cy="371.75" r="2.4" fill="#000"/>
<circle cx="106.75" cy="422.50" r="2.4" fill="#000"/>
<line x1="179.90" y1="331.00" x2="179.90" y2="435.18" stroke="#111" stroke-width="1.35" stroke-linecap="butt"/>
<line x1="176.90" y1="334.60" x2="179.90" y2="334.60" stroke="#111" stroke-width="1.35" stroke-linecap="butt"/>
<text transform="translate(173.40,337.60) scale(1.0,1)" font-size="8.2" text-anchor="end" font-weight="normal" font-style="normal" fill="#111" stroke="#111" stroke-width="0.12" >5000</text>
<line x1="176.90" y1="354.60" x2="179.90" y2="354.60" stroke="#111" stroke-width="1.35" stroke-linecap="butt"/>
<text transform="translate(173.40,357.60) scale(1.0,1)" font-size="8.2" text-anchor="end" font-weight="normal" font-style="normal" fill="#111" stroke="#111" stroke-width="0.12" >4000</text>
<line x1="176.90" y1="374.60" x2="179.90" y2="374.60" stroke="#111" stroke-width="1.35" stroke-linecap="butt"/>
<text transform="translate(173.40,377.60) scale(1.0,1)" font-size="8.2" text-anchor="end" font-weight="normal" font-style="normal" fill="#111" stroke="#111" stroke-width="0.12" >3000</text>
<line x1="176.90" y1="394.60" x2="179.90" y2="394.60" stroke="#111" stroke-width="1.35" stroke-linecap="butt"/>
<text transform="translate(173.40,397.60) scale(1.0,1)" font-size="8.2" text-anchor="end" font-weight="normal" font-style="normal" fill="#111" stroke="#111" stroke-width="0.12" >2000</text>
<line x1="176.90" y1="414.60" x2="179.90" y2="414.60" stroke="#111" stroke-width="1.35" stroke-linecap="butt"/>
<text transform="translate(173.40,417.60) scale(1.0,1)" font-size="8.2" text-anchor="end" font-weight="normal" font-style="normal" fill="#111" stroke="#111" stroke-width="0.12" >1000</text>
<line x1="176.90" y1="434.50" x2="179.90" y2="434.50" stroke="#111" stroke-width="1.35" stroke-linecap="butt"/>
<text transform="translate(173.40,437.50) scale(1.0,1)" font-size="8.2" text-anchor="end" font-weight="normal" font-style="normal" fill="#111" stroke="#111" stroke-width="0.12" >0</text>
<line x1="179.22" y1="434.50" x2="246.50" y2="434.50" stroke="#111" stroke-width="1.35" stroke-linecap="butt"/>
<line x1="196.00" y1="434.50" x2="196.00" y2="437.50" stroke="#111" stroke-width="1.35" stroke-linecap="butt"/>
<text transform="translate(196.00,448.10) scale(1.0,1)" font-size="8.2" text-anchor="middle" font-weight="normal" font-style="normal" fill="#111" stroke="#111" stroke-width="0.12" >HD</text>
<line x1="230.00" y1="434.50" x2="230.00" y2="437.50" stroke="#111" stroke-width="1.35" stroke-linecap="butt"/>
<text transform="translate(230.00,448.10) scale(1.0,1)" font-size="8.2" text-anchor="middle" font-weight="normal" font-style="normal" fill="#111" stroke="#111" stroke-width="0.12" >DLBCL</text>
<g transform="translate(149.80,383.20) rotate(-90)" fill="#111" stroke="#111" stroke-width="0.18">
<text transform="translate(-36.25,0) scale(1.0388,1)" font-size="8.6">S100A8/9&#160;(ng/mL)</text>
</g>
<line x1="196.25" y1="380.00" x2="196.25" y2="386.25" stroke="#111" stroke-width="1.6" stroke-linecap="butt"/>
<line x1="196.25" y1="394.50" x2="196.25" y2="398.25" stroke="#111" stroke-width="1.6" stroke-linecap="butt"/>
<line x1="189.50" y1="380.00" x2="202.50" y2="380.00" stroke="#111" stroke-width="1.6" stroke-linecap="butt"/>
<line x1="189.50" y1="398.25" x2="202.50" y2="398.25" stroke="#111" stroke-width="1.6" stroke-linecap="butt"/>
<rect x="184.50" y="386.25" width="23.50" height="8.25" fill="#c9c9c9"/>
<line x1="184.50" y1="392.50" x2="208.00" y2="392.50" stroke="#000" stroke-width="1.7" stroke-linecap="butt"/>
<line x1="229.62" y1="361.75" x2="229.62" y2="378.00" stroke="#111" stroke-width="1.6" stroke-linecap="butt"/>
<line x1="229.62" y1="391.75" x2="229.62" y2="395.00" stroke="#111" stroke-width="1.6" stroke-linecap="butt"/>
<line x1="223.25" y1="361.75" x2="236.25" y2="361.75" stroke="#111" stroke-width="1.6" stroke-linecap="butt"/>
<line x1="223.25" y1="395.00" x2="236.25" y2="395.00" stroke="#111" stroke-width="1.6" stroke-linecap="butt"/>
<rect x="217.50" y="378.00" width="24.25" height="13.75" fill="#c9c9c9"/>
<line x1="217.50" y1="388.25" x2="241.75" y2="388.25" stroke="#000" stroke-width="1.7" stroke-linecap="butt"/>
<circle cx="230.00" cy="357.00" r="2.4" fill="#000"/>
<circle cx="230.00" cy="395.50" r="2.4" fill="#000"/>
<line x1="316.40" y1="200.00" x2="316.40" y2="303.07" stroke="#111" stroke-width="1.35" stroke-linecap="butt"/>
<line x1="313.40" y1="203.30" x2="316.40" y2="203.30" stroke="#111" stroke-width="1.35" stroke-linecap="butt"/>
<text transform="translate(310.40,206.30) scale(1.0,1)" font-size="8.2" text-anchor="end" font-weight="normal" font-style="normal" fill="#111" stroke="#111" stroke-width="0.12" >10000</text>
<line x1="313.40" y1="236.50" x2="316.40" y2="236.50" stroke="#111" stroke-width="1.35" stroke-linecap="butt"/>
<text transform="translate(310.40,239.50) scale(1.0,1)" font-size="8.2" text-anchor="end" font-weight="normal" font-style="normal" fill="#111" stroke="#111" stroke-width="0.12" >1000</text>
<line x1="313.40" y1="269.60" x2="316.40" y2="269.60" stroke="#111" stroke-width="1.35" stroke-linecap="butt"/>
<text transform="translate(310.40,272.60) scale(1.0,1)" font-size="8.2" text-anchor="end" font-weight="normal" font-style="normal" fill="#111" stroke="#111" stroke-width="0.12" >100</text>
<line x1="313.40" y1="302.40" x2="316.40" y2="302.40" stroke="#111" stroke-width="1.35" stroke-linecap="butt"/>
<text transform="translate(310.40,305.40) scale(1.0,1)" font-size="8.2" text-anchor="end" font-weight="normal" font-style="normal" fill="#111" stroke="#111" stroke-width="0.12" >10</text>
<line x1="314.40" y1="292.44" x2="316.40" y2="292.44" stroke="#111" stroke-width="0.9" stroke-linecap="butt"/>
<line x1="314.40" y1="286.61" x2="316.40" y2="286.61" stroke="#111" stroke-width="0.9" stroke-linecap="butt"/>
<line x1="314.40" y1="282.47" x2="316.40" y2="282.47" stroke="#111" stroke-width="0.9" stroke-linecap="butt"/>
<line x1="314.40" y1="279.26" x2="316.40" y2="279.26" stroke="#111" stroke-width="0.9" stroke-linecap="butt"/>
<line x1="314.40" y1="276.64" x2="316.40" y2="276.64" stroke="#111" stroke-width="0.9" stroke-linecap="butt"/>
<line x1="314.40" y1="274.43" x2="316.40" y2="274.43" stroke="#111" stroke-width="0.9" stroke-linecap="butt"/>
<line x1="314.40" y1="272.51" x2="316.40" y2="272.51" stroke="#111" stroke-width="0.9" stroke-linecap="butt"/>
<line x1="314.40" y1="270.81" x2="316.40" y2="270.81" stroke="#111" stroke-width="0.9" stroke-linecap="butt"/>
<line x1="314.40" y1="259.34" x2="316.40" y2="259.34" stroke="#111" stroke-width="0.9" stroke-linecap="butt"/>
<line x1="314.40" y1="253.51" x2="316.40" y2="253.51" stroke="#111" stroke-width="0.9" stroke-linecap="butt"/>
<line x1="314.40" y1="249.37" x2="316.40" y2="249.37" stroke="#111" stroke-width="0.9" stroke-linecap="butt"/>
<line x1="314.40" y1="246.16" x2="316.40" y2="246.16" stroke="#111" stroke-width="0.9" stroke-linecap="butt"/>
<line x1="314.40" y1="243.54" x2="316.40" y2="243.54" stroke="#111" stroke-width="0.9" stroke-linecap="butt"/>
<line x1="314.40" y1="241.33" x2="316.40" y2="241.33" stroke="#111" stroke-width="0.9" stroke-linecap="butt"/>
<line x1="314.40" y1="239.41" x2="316.40" y2="239.41" stroke="#111" stroke-width="0.9" stroke-linecap="butt"/>
<line x1="314.40" y1="237.71" x2="316.40" y2="237.71" stroke="#111" stroke-width="0.9" stroke-linecap="butt"/>
<line x1="314.40" y1="226.24" x2="316.40" y2="226.24" stroke="#111" stroke-width="0.9" stroke-linecap="butt"/>
<line x1="314.40" y1="220.41" x2="316.40" y2="220.41" stroke="#111" stroke-width="0.9" stroke-linecap="butt"/>
<line x1="314.40" y1="216.27" x2="316.40" y2="216.27" stroke="#111" stroke-width="0.9" stroke-linecap="butt"/>
<line x1="314.40" y1="213.06" x2="316.40" y2="213.06" stroke="#111" stroke-width="0.9" stroke-linecap="butt"/>
<line x1="314.40" y1="210.44" x2="316.40" y2="210.44" stroke="#111" stroke-width="0.9" stroke-linecap="butt"/>
<line x1="314.40" y1="208.23" x2="316.40" y2="208.23" stroke="#111" stroke-width="0.9" stroke-linecap="butt"/>
<line x1="314.40" y1="206.31" x2="316.40" y2="206.31" stroke="#111" stroke-width="0.9" stroke-linecap="butt"/>
<line x1="314.40" y1="204.61" x2="316.40" y2="204.61" stroke="#111" stroke-width="0.9" stroke-linecap="butt"/>
<line x1="315.72" y1="302.40" x2="383.00" y2="302.40" stroke="#111" stroke-width="1.35" stroke-linecap="butt"/>
<line x1="332.50" y1="302.40" x2="332.50" y2="305.40" stroke="#111" stroke-width="1.35" stroke-linecap="butt"/>
<line x1="330.70" y1="312.80" x2="334.30" y2="312.80" stroke="#333" stroke-width="0.8" stroke-linecap="butt"/>
<line x1="332.50" y1="311.00" x2="332.50" y2="314.60" stroke="#333" stroke-width="0.8" stroke-linecap="butt"/>
<line x1="365.75" y1="302.40" x2="365.75" y2="305.40" stroke="#111" stroke-width="1.35" stroke-linecap="butt"/>
<line x1="364.75" y1="313.00" x2="366.75" y2="313.00" stroke="#777" stroke-width="0.8" stroke-linecap="butt"/>
<text transform="translate(310.20,315.30) scale(1.0,1)" font-size="8.0" text-anchor="end" font-weight="normal" font-style="normal" fill="#111" stroke="#111" stroke-width="0.12" >CD14</text>
<line x1="332.00" y1="204.50" x2="367.50" y2="204.50" stroke="#111" stroke-width="1.55" stroke-linecap="butt"/>
<circle cx="349.50" cy="198.75" r="1.2" fill="#111"/>
<path d="M348.00 198.25L351.00 198.25M349.50 197.15L349.50 198.75M348.50 200.15L349.50 198.75L350.50 200.15" stroke="#111" stroke-width="0.5" fill="none" opacity="0.6"/>
<g transform="translate(281.00,251.30) rotate(-90)" fill="#111" stroke="#111" stroke-width="0.18">
<text transform="translate(-27.75,0) scale(1.0752,1)" font-size="8.6">IL-10&#160;(pg/mL)</text>
</g>
<line x1="332.60" y1="218.30" x2="366.00" y2="246.80" stroke="#000" stroke-width="1.5" stroke-linecap="butt"/>
<line x1="332.60" y1="226.20" x2="366.00" y2="236.30" stroke="#000" stroke-width="1.5" stroke-linecap="butt"/>
<line x1="332.60" y1="231.00" x2="366.00" y2="243.50" stroke="#000" stroke-width="1.5" stroke-linecap="butt"/>
<line x1="332.60" y1="239.30" x2="366.00" y2="240.20" stroke="#000" stroke-width="1.5" stroke-linecap="butt"/>
<line x1="332.60" y1="242.20" x2="366.00" y2="246.80" stroke="#000" stroke-width="1.5" stroke-linecap="butt"/>
<line x1="332.60" y1="245.50" x2="366.00" y2="243.50" stroke="#000" stroke-width="1.5" stroke-linecap="butt"/>
<line x1="332.60" y1="239.30" x2="366.00" y2="243.80" stroke="#000" stroke-width="1.5" stroke-linecap="butt"/>
<line x1="332.60" y1="245.50" x2="366.00" y2="240.20" stroke="#000" stroke-width="1.5" stroke-linecap="butt"/>
<line x1="332.60" y1="253.40" x2="366.00" y2="261.60" stroke="#000" stroke-width="1.5" stroke-linecap="butt"/>
<line x1="332.60" y1="258.00" x2="366.00" y2="253.10" stroke="#000" stroke-width="1.5" stroke-linecap="butt"/>
<line x1="332.60" y1="255.80" x2="366.00" y2="295.50" stroke="#000" stroke-width="1.5" stroke-linecap="butt"/>
<line x1="332.60" y1="253.40" x2="366.00" y2="253.10" stroke="#000" stroke-width="1.5" stroke-linecap="butt"/>
<circle cx="332.60" cy="218.30" r="2.35" fill="#000"/>
<circle cx="332.60" cy="226.20" r="2.35" fill="#000"/>
<circle cx="332.60" cy="231.00" r="2.35" fill="#000"/>
<circle cx="332.60" cy="239.30" r="2.35" fill="#000"/>
<circle cx="332.60" cy="242.20" r="2.35" fill="#000"/>
<circle cx="332.60" cy="245.50" r="2.35" fill="#000"/>
<circle cx="332.60" cy="253.40" r="2.35" fill="#000"/>
<circle cx="332.60" cy="255.80" r="2.35" fill="#000"/>
<circle cx="332.60" cy="258.00" r="2.35" fill="#000"/>
<rect x="363.70" y="234.00" width="4.6" height="4.6" fill="#000"/>
<rect x="363.70" y="237.90" width="4.6" height="4.6" fill="#000"/>
<rect x="363.70" y="241.20" width="4.6" height="4.6" fill="#000"/>
<rect x="363.70" y="241.50" width="4.6" height="4.6" fill="#000"/>
<rect x="363.70" y="244.50" width="4.6" height="4.6" fill="#000"/>
<rect x="363.70" y="250.80" width="4.6" height="4.6" fill="#000"/>
<rect x="363.70" y="259.30" width="4.6" height="4.6" fill="#000"/>
<rect x="363.70" y="293.20" width="4.6" height="4.6" fill="#000"/>
<line x1="433.40" y1="200.10" x2="433.40" y2="303.07" stroke="#111" stroke-width="1.35" stroke-linecap="butt"/>
<line x1="430.40" y1="203.20" x2="433.40" y2="203.20" stroke="#111" stroke-width="1.35" stroke-linecap="butt"/>
<text transform="translate(427.60,206.20) scale(1.0,1)" font-size="8.2" text-anchor="end" font-weight="normal" font-style="normal" fill="#111" stroke="#111" stroke-width="0.12" >1500</text>
<line x1="430.40" y1="236.30" x2="433.40" y2="236.30" stroke="#111" stroke-width="1.35" stroke-linecap="butt"/>
<text transform="translate(427.60,239.30) scale(1.0,1)" font-size="8.2" text-anchor="end" font-weight="normal" font-style="normal" fill="#111" stroke="#111" stroke-width="0.12" >1000</text>
<line x1="430.40" y1="269.50" x2="433.40" y2="269.50" stroke="#111" stroke-width="1.35" stroke-linecap="butt"/>
<text transform="translate(427.60,272.50) scale(1.0,1)" font-size="8.2" text-anchor="end" font-weight="normal" font-style="normal" fill="#111" stroke="#111" stroke-width="0.12" >500</text>
<line x1="430.40" y1="302.40" x2="433.40" y2="302.40" stroke="#111" stroke-width="1.35" stroke-linecap="butt"/>
<text transform="translate(427.60,305.40) scale(1.0,1)" font-size="8.2" text-anchor="end" font-weight="normal" font-style="normal" fill="#111" stroke="#111" stroke-width="0.12" >0</text>
<line x1="432.72" y1="302.40" x2="500.50" y2="302.40" stroke="#111" stroke-width="1.35" stroke-linecap="butt"/>
<line x1="450.00" y1="302.40" x2="450.00" y2="305.40" stroke="#111" stroke-width="1.35" stroke-linecap="butt"/>
<line x1="448.20" y1="312.80" x2="451.80" y2="312.80" stroke="#333" stroke-width="0.8" stroke-linecap="butt"/>
<line x1="450.00" y1="311.00" x2="450.00" y2="314.60" stroke="#333" stroke-width="0.8" stroke-linecap="butt"/>
<line x1="483.25" y1="302.40" x2="483.25" y2="305.40" stroke="#111" stroke-width="1.35" stroke-linecap="butt"/>
<line x1="482.25" y1="313.00" x2="484.25" y2="313.00" stroke="#777" stroke-width="0.8" stroke-linecap="butt"/>
<line x1="448.75" y1="204.50" x2="484.50" y2="204.50" stroke="#111" stroke-width="1.55" stroke-linecap="butt"/>
<circle cx="464.82" cy="198.75" r="1.2" fill="#111"/>
<path d="M463.32 198.25L466.32 198.25M464.82 197.15L464.82 198.75M463.82 200.15L464.82 198.75L465.82 200.15" stroke="#111" stroke-width="0.5" fill="none" opacity="0.6"/>
<circle cx="468.68" cy="198.75" r="1.2" fill="#111"/>
<path d="M467.18 198.25L470.18 198.25M468.68 197.15L468.68 198.75M467.68 200.15L468.68 198.75L469.68 200.15" stroke="#111" stroke-width="0.5" fill="none" opacity="0.6"/>
<g transform="translate(403.20,251.00) rotate(-90)" fill="#111" stroke="#111" stroke-width="0.18">
<text transform="translate(-34.50,0) scale(1.0237,1)" font-size="8.6">S100A12&#160;(ng/mL)</text>
</g>
<line x1="450.20" y1="233.00" x2="483.40" y2="250.70" stroke="#000" stroke-width="1.5" stroke-linecap="butt"/>
<line x1="450.20" y1="258.50" x2="483.40" y2="277.10" stroke="#000" stroke-width="1.5" stroke-linecap="butt"/>
<line x1="450.20" y1="260.00" x2="483.40" y2="296.00" stroke="#000" stroke-width="1.5" stroke-linecap="butt"/>
<line x1="450.20" y1="268.20" x2="483.40" y2="267.10" stroke="#000" stroke-width="1.5" stroke-linecap="butt"/>
<line x1="450.20" y1="275.80" x2="483.40" y2="290.00" stroke="#000" stroke-width="1.5" stroke-linecap="butt"/>
<line x1="450.20" y1="275.80" x2="483.40" y2="295.00" stroke="#000" stroke-width="1.5" stroke-linecap="butt"/>
<line x1="450.20" y1="285.00" x2="483.40" y2="286.50" stroke="#000" stroke-width="1.5" stroke-linecap="butt"/>
<line x1="450.20" y1="285.00" x2="483.40" y2="293.00" stroke="#000" stroke-width="1.5" stroke-linecap="butt"/>
<line x1="450.20" y1="288.30" x2="483.40" y2="291.00" stroke="#000" stroke-width="1.5" stroke-linecap="butt"/>
<line x1="450.20" y1="288.30" x2="483.40" y2="298.00" stroke="#000" stroke-width="1.5" stroke-linecap="butt"/>
<line x1="450.20" y1="291.10" x2="483.40" y2="296.00" stroke="#000" stroke-width="1.5" stroke-linecap="butt"/>
<line x1="450.20" y1="294.30" x2="483.40" y2="300.20" stroke="#000" stroke-width="1.5" stroke-linecap="butt"/>
<circle cx="450.20" cy="233.00" r="2.35" fill="#000"/>
<circle cx="450.20" cy="258.50" r="2.35" fill="#000"/>
<circle cx="450.20" cy="260.00" r="2.35" fill="#000"/>
<circle cx="450.20" cy="268.20" r="2.35" fill="#000"/>
<circle cx="450.20" cy="275.80" r="2.35" fill="#000"/>
<circle cx="450.20" cy="285.00" r="2.35" fill="#000"/>
<circle cx="450.20" cy="288.30" r="2.35" fill="#000"/>
<circle cx="450.20" cy="291.10" r="2.35" fill="#000"/>
<circle cx="450.20" cy="294.30" r="2.35" fill="#000"/>
<rect x="481.10" y="248.40" width="4.6" height="4.6" fill="#000"/>
<rect x="481.10" y="264.80" width="4.6" height="4.6" fill="#000"/>
<rect x="481.10" y="274.80" width="4.6" height="4.6" fill="#000"/>
<rect x="481.10" y="284.20" width="4.6" height="4.6" fill="#000"/>
<rect x="481.10" y="287.70" width="4.6" height="4.6" fill="#000"/>
<rect x="481.10" y="288.70" width="4.6" height="4.6" fill="#000"/>
<rect x="481.10" y="290.70" width="4.6" height="4.6" fill="#000"/>
<rect x="481.10" y="292.70" width="4.6" height="4.6" fill="#000"/>
<rect x="481.10" y="293.70" width="4.6" height="4.6" fill="#000"/>
<rect x="481.10" y="295.70" width="4.6" height="4.6" fill="#000"/>
<rect x="481.10" y="297.90" width="4.6" height="4.6" fill="#000"/>
<rect x="0" y="0" width="520" height="1.2" fill="#000"/><rect x="0" y="0" width="1.7" height="457" fill="#000"/><rect x="518.7" y="0" width="1.3" height="457" fill="#000"/><rect x="0" y="455.0" width="520" height="2" fill="#000"/>
</svg></body></html>
